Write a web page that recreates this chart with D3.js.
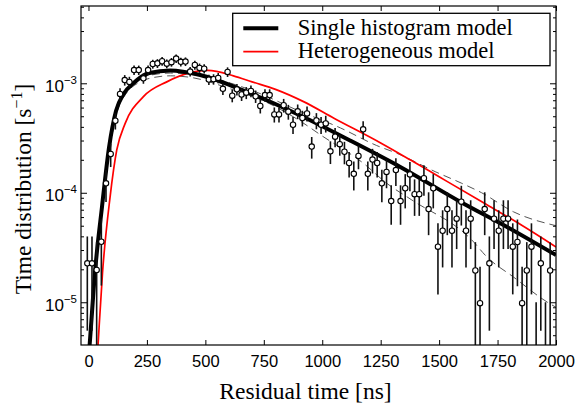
<!DOCTYPE html>
<html>
<head>
<meta charset="utf-8">
<script src="https://cdn.jsdelivr.net/npm/d3@7"></script>
<style>
  body { margin: 0; background: #fff; }
  svg { display: block; }
</style>
</head>
<body>
<svg width="578" height="409"></svg>
<script>
// bin centres of the measured histogram [ns]
var binTime = [
  -5, 15, 35, 55, 75, 95, 115, 135, 155, 175,
  195, 215, 235, 255, 275, 295, 315, 335, 355, 375,
  395, 415, 435, 455, 475, 495, 515, 535, 555, 575,
  595, 615, 635, 655, 675, 695, 715, 735, 755, 775,
  795, 815, 835, 855, 875, 895, 915, 935, 955, 975,
  995, 1015, 1035, 1055, 1075, 1095, 1115, 1135, 1155, 1175,
  1195, 1215, 1235, 1255, 1275, 1295, 1315, 1335, 1355, 1375,
  1395, 1415, 1435, 1455, 1475, 1495, 1515, 1535, 1555, 1575,
  1595, 1615, 1635, 1655, 1675, 1695, 1715, 1735, 1755, 1775,
  1795, 1815, 1835, 1855, 1875, 1895, 1915, 1935, 1955, 1975
];

// measured time distribution, in units of 1e-5 s^-1
var binRate = [
  2.27, 2.27, 1.97, 3.57, 12.2, 22.6, 45.5, 80, 107, 103,
  132, 132, 111, 132, 150, 152, 159, 151, 156, 168,
  157, 158, 128, 147, 138, 136, 108, 109, 112, 89,
  127, 77, 88, 79, 82, 85, 76, 62, 78, 78,
  52, 52, 63, 55, 41.8, 55.5, 48.2, 53, 26.4, 45.7,
  41.8, 43, 23.9, 32.5, 27.8, 23.7, 18.7, 14.9, 21.7, 38,
  14.9, 20.1, 18.7, 12.2, 15.5, 8.4, 16.1, 8.4, 11.0, 14.7,
  9.7, 9.7, 13.6, 7.1, 11.0, 3.22, 4.5, 7.1, 4.5, 5.8,
  8.3, 4.5, 5.8, 1.95, 0.98, 7.1, 2.27, 5.8, 4.5, 5.8,
  5.8, 3.22, 3.55, 0.98, 1.95, 3.22, 0, 2.27, 0, 1.95
];

// one-sigma error of each bin, same units
var binErr = [
  1.72, 1.72, 1.60, 2.15, 3.98, 5.42, 7.69, 10.2, 11.8, 11.6,
  13.1, 13.1, 12.0, 13.1, 14.0, 14.1, 14.4, 14.0, 14.2, 14.8,
  14.3, 14.3, 12.9, 13.8, 13.4, 13.3, 11.8, 11.9, 12.1, 10.8,
  12.8, 10.0, 10.7, 10.1, 10.3, 10.5, 9.9, 9.0, 10.1, 10.1,
  8.2, 8.2, 9.0, 8.5, 7.4, 8.5, 7.9, 8.3, 5.9, 7.7,
  7.4, 7.5, 5.6, 6.5, 6.0, 5.5, 4.9, 4.4, 5.3, 7.0,
  4.4, 5.1, 4.9, 4.0, 4.5, 3.3, 4.6, 3.3, 3.8, 4.4,
  3.55, 3.55, 4.2, 3.0, 3.8, 2.04, 2.42, 3.0, 2.42, 2.74,
  3.28, 2.42, 2.74, 1.59, 1.13, 3.0, 1.72, 2.74, 2.42, 2.74,
  2.74, 2.04, 2.15, 1.13, 1.59, 2.04, 1.0, 1.72, 1.0, 1.59
];

// model curves: [time ns, rate s^-1]
var singleModel = [
  [-3, 2.5e-6], [5, 4.1e-6], [28, 1.9e-5], [58, 7.5e-5], [88, 2.6e-4], [118, 5.6e-4],
  [150, 8.0e-4], [192, 1.0e-3], [260, 1.24e-3], [350, 1.31e-3], [478, 1.19e-3],
  [691, 8.1e-4], [904, 5.1e-4], [1119, 3.0e-4], [1332, 1.73e-4], [1590, 8.3e-5],
  [1789, 4.9e-5], [2000, 2.7e-5]
];

var heteroModel = [
  [35, 2.5e-6], [41, 4.1e-6], [60, 1.85e-5], [92, 9.0e-5], [121, 2.46e-4], [157, 4.3e-4],
  [235, 7.55e-4], [335, 1.03e-3], [435, 1.25e-3], [510, 1.31e-3], [620, 1.17e-3],
  [700, 1.03e-3], [800, 8.8e-4], [920, 6.8e-4], [1050, 4.8e-4], [1250, 2.85e-4],
  [1376, 2.0e-4], [1500, 1.4e-4], [1690, 8.1e-5], [1850, 5.1e-5], [2000, 3.2e-5]
];

var bandUpper = [
  [-3, 2.5e-6], [6, 4.1e-6], [29, 1.9e-5], [59, 7.5e-5], [89, 2.6e-4], [120, 5.5e-4],
  [155, 8.0e-4], [200, 1.0e-3], [260, 1.18e-3], [350, 1.24e-3], [480, 1.17e-3],
  [700, 8.6e-4], [900, 5.6e-4], [1079, 3.9e-4], [1233, 2.7e-4], [1318, 2.3e-4],
  [1483, 1.56e-4], [1597, 1.22e-4], [1682, 1.0e-4], [1818, 6.7e-5], [2000, 5.0e-5]
];

var bandLower = [
  [-1, 2.5e-6], [8, 4.1e-6], [31, 1.9e-5], [61, 7.5e-5], [92, 2.6e-4], [123, 5.5e-4],
  [160, 8.0e-4], [210, 1.0e-3], [270, 1.12e-3], [350, 1.17e-3], [450, 1.12e-3],
  [600, 9.0e-4], [756, 6.8e-4], [900, 4.6e-4], [1000, 3.3e-4], [1176, 1.86e-4],
  [1276, 1.22e-4], [1383, 8.6e-5], [1640, 3.7e-5], [1704, 2.6e-5], [1818, 1.7e-5],
  [1970, 9.8e-6], [2000, 9.0e-6]
];

var xTicks = [0, 250, 500, 750, 1000, 1250, 1500, 1750, 2000];
var yTicks = [1e-5, 1e-4, 1e-3];
var yTickExp = ["\u22125", "\u22124", "\u22123"];

var legendNames = ["Single histogram model", "Heterogeneous model"];

var sans = "'Liberation Sans', Arial, Helvetica, sans-serif",
    serif = "'Liberation Serif', 'Times New Roman', Times, serif";

var svg = d3.select("svg"),
    plot = {left: 81, top: 6, right: 556, bottom: 345};

var x = d3.scaleLinear().domain([-32, 2000]).range([plot.left, plot.right]);
var y = d3.scaleLog().domain([4.07e-6, 5.08e-3]).range([plot.bottom, plot.top]);

svg.append("clipPath").attr("id", "clip")
  .append("rect")
    .attr("x", plot.left).attr("y", plot.top)
    .attr("width", plot.right - plot.left).attr("height", plot.bottom - plot.top);

var bins = binTime.map(function(t, i) {
  return {t: t, v: binRate[i] * 1e-5, e: binErr[i] * 1e-5};
});

var line = d3.line()
    .x(function(d) { return x(d[0]); })
    .y(function(d) { return y(d[1]); })
    .curve(d3.curveMonotoneX);

var g = svg.append("g").attr("clip-path", "url(#clip)");

// dashed uncertainty band
[bandUpper, bandLower].forEach(function(band) {
  g.append("path")
    .attr("d", line(band))
    .attr("fill", "none")
    .attr("stroke", "#555")
    .attr("stroke-width", 1)
    .attr("stroke-dasharray", "8,5");
});

g.append("path")
  .attr("d", line(heteroModel))
  .attr("fill", "none")
  .attr("stroke", "#ff0000")
  .attr("stroke-width", 1.7);

g.append("path")
  .attr("d", line(singleModel))
  .attr("fill", "none")
  .attr("stroke", "#000")
  .attr("stroke-width", 4);

// error bars
g.selectAll(".err")
  .data(bins)
  .enter().append("line")
    .attr("class", "err")
    .attr("x1", function(d) { return x(d.t); })
    .attr("x2", function(d) { return x(d.t); })
    .attr("y1", function(d) { return y(Math.max(d.v - d.e, 1e-6)); })
    .attr("y2", function(d) { return y(d.v + d.e); })
    .attr("stroke", "#111")
    .attr("stroke-width", 1.6);

g.selectAll(".pt")
  .data(bins.filter(function(d) { return d.v > 0; }))
  .enter().append("circle")
    .attr("class", "pt")
    .attr("cx", function(d) { return x(d.t); })
    .attr("cy", function(d) { return y(d.v); })
    .attr("r", 2.7)
    .attr("fill", "#fff")
    .attr("stroke", "#000")
    .attr("stroke-width", 1.1);

// axes, ticks pointing inward on all four sides
var minorY = [];
[1e-6, 1e-5, 1e-4, 1e-3].forEach(function(p) {
  for (var m = 2; m <= 9; m++) {
    var v = m * p;
    if (v > y.domain()[0] && v < y.domain()[1]) minorY.push(v);
  }
});

function styleAxis(sel) {
  sel.select(".domain").remove();
  sel.selectAll(".tick line").attr("stroke", "#000").attr("stroke-width", 1);
  sel.selectAll("text").attr("font-family", sans).attr("font-size", "16.5px").attr("fill", "#000");
}

svg.append("g")
  .attr("transform", "translate(0," + plot.bottom + ")")
  .call(d3.axisBottom(x).tickValues(xTicks).tickSize(-5).tickPadding(10).tickFormat(d3.format("d")))
  .call(styleAxis);

svg.append("g")
  .attr("transform", "translate(0," + plot.top + ")")
  .call(d3.axisTop(x).tickValues(xTicks).tickSize(-5).tickFormat(""))
  .call(styleAxis);

svg.append("g")
  .attr("transform", "translate(" + plot.left + ",0)")
  .call(d3.axisLeft(y).tickValues(yTicks).tickSize(-6).tickFormat(""))
  .call(styleAxis);

svg.append("g")
  .attr("transform", "translate(" + plot.left + ",0)")
  .call(d3.axisLeft(y).tickValues(minorY).tickSize(-3).tickFormat(""))
  .call(styleAxis);

svg.append("g")
  .attr("transform", "translate(" + plot.right + ",0)")
  .call(d3.axisRight(y).tickValues(yTicks).tickSize(-6).tickFormat(""))
  .call(styleAxis);

svg.append("g")
  .attr("transform", "translate(" + plot.right + ",0)")
  .call(d3.axisRight(y).tickValues(minorY).tickSize(-3).tickFormat(""))
  .call(styleAxis);

// y tick labels as 10 with superscript exponent
var ylab = svg.append("g").selectAll("text")
  .data(yTicks)
  .enter().append("text")
    .attr("x", plot.left - 4)
    .attr("y", function(d) { return y(d) + 8.4; })
    .attr("text-anchor", "end")
    .attr("font-family", sans)
    .attr("font-size", "17px")
    .attr("fill", "#000");
ylab.append("tspan").text("10");
ylab.append("tspan")
  .attr("dy", -8)
  .attr("font-size", "11.5px")
  .text(function(d, i) { return yTickExp[i]; });

svg.append("rect")
  .attr("x", plot.left).attr("y", plot.top)
  .attr("width", plot.right - plot.left).attr("height", plot.bottom - plot.top)
  .attr("fill", "none")
  .attr("stroke", "#000")
  .attr("stroke-width", 1.2);

// axis titles
svg.append("text")
  .attr("x", 305.5)
  .attr("y", 399)
  .attr("text-anchor", "middle")
  .attr("font-family", serif)
  .attr("font-size", "23.5px")
  .attr("fill", "#000")
  .text("Residual time [ns]");

var ytitle = svg.append("text")
  .attr("transform", "translate(31,189) rotate(-90)")
  .attr("text-anchor", "middle")
  .attr("font-family", serif)
  .attr("font-size", "23.5px")
  .attr("fill", "#000");
ytitle.append("tspan").text("Time distribution [s");
ytitle.append("tspan").attr("dy", -9).attr("font-size", "16px").text("\u22121");
ytitle.append("tspan").attr("dy", 9).text("]");

// legend
var legend = svg.append("g");
legend.append("rect")
  .attr("x", 232.7).attr("y", 13.3)
  .attr("width", 317.3).attr("height", 52.4)
  .attr("fill", "#fff")
  .attr("stroke", "#000")
  .attr("stroke-width", 1.3);

var legendStyle = [{stroke: "#000", width: 4}, {stroke: "#ff0000", width: 1.7}];
legendNames.forEach(function(name, i) {
  var ly = 28.3 + i * 23.4;
  legend.append("line")
    .attr("x1", 243.3).attr("x2", 278.3)
    .attr("y1", ly).attr("y2", ly)
    .attr("stroke", legendStyle[i].stroke)
    .attr("stroke-width", legendStyle[i].width);
  legend.append("text")
    .attr("x", 297.7)
    .attr("y", ly + 6.5)
    .attr("font-family", serif)
    .attr("font-size", "22.5px")
    .attr("fill", "#000")
    .text(name);
});
</script>
</body>
</html>
